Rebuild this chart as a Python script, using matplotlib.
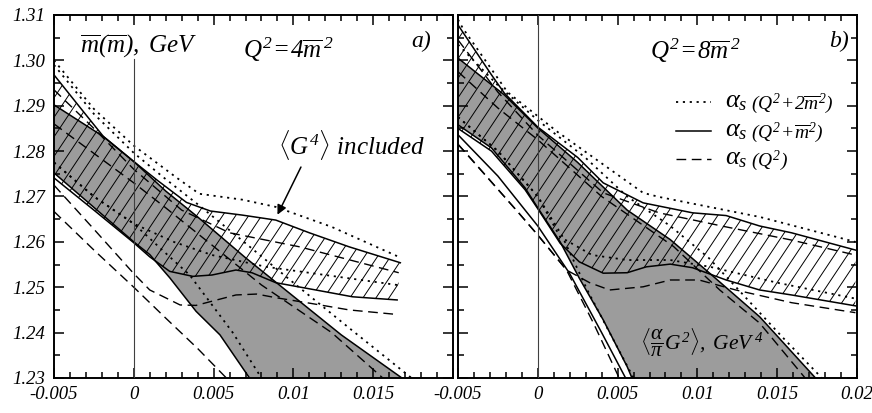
import numpy as np
import matplotlib
matplotlib.use("Agg")
import matplotlib.pyplot as plt
from matplotlib.patches import Polygon
from matplotlib.ticker import MultipleLocator

plt.rcParams['font.family'] = ['Liberation Serif', 'DejaVu Serif']
plt.rcParams['font.style'] = 'italic'
plt.rcParams['mathtext.fontset'] = 'custom'
plt.rcParams['mathtext.rm'] = 'Liberation Serif'
plt.rcParams['mathtext.it'] = 'Liberation Serif:italic'
plt.rcParams['axes.unicode_minus'] = False

# ---- axis labels
yticks = [1.23, 1.24, 1.25, 1.26, 1.27, 1.28, 1.29, 1.30, 1.31]
ylabels = ['1.23', '1.24', '1.25', '1.26', '1.27', '1.28', '1.29', '1.30', '1.31']
xticks = [-0.005, 0, 0.005, 0.01, 0.015, 0.02]
xlabels_a = ['-0.005', '0', '0.005', '0.01', '0.015', '']
xlabels_b = ['-0.005', '0', '0.005', '0.01', '0.015', '0.02']

# ---- panel a) Q^2 = 4 m^2   (gu/gl: gray band, hu/hl: <G^4> included band)
a_gu_x = [-0.005, -0.0019, 0, 0.002, 0.004, 0.007, 0.010, 0.013, 0.0168]
a_gu_y = [1.2902, 1.2832, 1.2777, 1.2712, 1.2655, 1.2565, 1.2480, 1.2395, 1.2300]
a_gl_x = [-0.005, -0.0025, 0, 0.001, 0.00225, 0.0039, 0.0054, 0.00725]
a_gl_y = [1.2752, 1.2676, 1.2600, 1.2572, 1.2521, 1.2447, 1.2395, 1.2300]
a_hu_x = [-0.005, -0.0035, -0.0019, 0, 0.0015, 0.0033, 0.0048, 0.0068, 0.0089, 0.011, 0.0135, 0.0167]
a_hu_y = [1.2968, 1.2902, 1.2832, 1.2777, 1.2735, 1.2687, 1.2668, 1.2659, 1.2648, 1.2620, 1.2589, 1.2554]
a_hl_x = [-0.005, -0.0025, 0, 0.001, 0.00225, 0.0037, 0.0049, 0.0064, 0.0074, 0.0089, 0.0114, 0.0137, 0.0165]
a_hl_y = [1.2741, 1.2670, 1.2598, 1.2567, 1.2535, 1.2524, 1.2527, 1.2538, 1.2532, 1.2510, 1.2494, 1.2479, 1.2472]

a_hu_dot_x = [-0.005, -0.0025, 0, 0.0027, 0.0041, 0.0068, 0.0089, 0.0124, 0.0166]
a_hu_dot_y = [1.3000, 1.2893, 1.2812, 1.2741, 1.2706, 1.2693, 1.2677, 1.2633, 1.2567]
a_gu_dot_x = [-0.005, -0.0025, 0, 0.0019, 0.004, 0.007, 0.010, 0.0135, 0.0174]
a_gu_dot_y = [1.2990, 1.2882, 1.2796, 1.2741, 1.2683, 1.2597, 1.2510, 1.2410, 1.2300]
a_gl_dot_x = [-0.005, -0.0025, 0, 0.002, 0.0035, 0.0062, 0.008]
a_gl_dot_y = [1.2775, 1.2700, 1.2640, 1.2575, 1.2527, 1.2400, 1.2300]
a_hl_dot_x = [-0.005, -0.0025, 0, 0.0025, 0.0049, 0.0083, 0.0124, 0.0165]
a_hl_dot_y = [1.2775, 1.2700, 1.2640, 1.2600, 1.2571, 1.2545, 1.2525, 1.2505]

a_hu_dash_x = [-0.005, -0.0025, 0, 0.003, 0.006, 0.0104, 0.0166]
a_hu_dash_y = [1.2935, 1.2850, 1.2760, 1.2670, 1.2620, 1.2589, 1.2532]
a_gu_dash_x = [-0.005, -0.0025, 0, 0.002, 0.005, 0.008, 0.0124, 0.0156]
a_gu_dash_y = [1.2860, 1.2795, 1.2730, 1.2675, 1.2590, 1.2505, 1.2400, 1.2300]
a_gl_dash_x = [-0.005, -0.0025, 0, 0.002, 0.004, 0.0058]
a_gl_dash_y = [1.2667, 1.2582, 1.2500, 1.2432, 1.2365, 1.2300]
a_hl_dash_x = [-0.005, -0.0025, 0, 0.001, 0.0029, 0.0039, 0.0052, 0.0064, 0.0077, 0.0089, 0.011, 0.0135, 0.0165]
a_hl_dash_y = [1.2725, 1.2628, 1.2530, 1.2494, 1.2461, 1.2460, 1.2472, 1.2483, 1.2485, 1.2477, 1.2465, 1.2450, 1.2440]

# ---- panel b) Q^2 = 8 m^2
b_gu_x = [-0.005, -0.0021, 0, 0.0025, 0.0056, 0.0083, 0.0108, 0.0139, 0.0174]
b_gu_y = [1.3005, 1.2924, 1.2851, 1.2775, 1.2670, 1.2605, 1.2530, 1.2435, 1.2300]
b_gl_x = [-0.005, -0.0029, -0.0008, 0, 0.0014, 0.0026, 0.0041, 0.0056, 0.0059]
b_gl_y = [1.2858, 1.2807, 1.2719, 1.2675, 1.2600, 1.2520, 1.2428, 1.2325, 1.2300]
b_hu_x = [-0.005, -0.0029, -0.0021, 0, 0.0025, 0.0041, 0.0066, 0.0097, 0.0118, 0.0139, 0.0159, 0.0199]
b_hu_y = [1.3078, 1.2968, 1.2928, 1.2853, 1.2786, 1.2730, 1.2686, 1.2664, 1.2658, 1.2635, 1.2620, 1.2582]
b_hl_x = [-0.005, -0.0029, -0.0008, 0, 0.0014, 0.0026, 0.0041, 0.0056, 0.0068, 0.0083, 0.0097, 0.0118, 0.0139, 0.0159, 0.0199]
b_hl_y = [1.2850, 1.2800, 1.2715, 1.2673, 1.2597, 1.2556, 1.2531, 1.2532, 1.2545, 1.2551, 1.2543, 1.2516, 1.2494, 1.2483, 1.2459]
b_gl2_x = [-0.005, -0.0025, 0, 0.002, 0.004, 0.0055]
b_gl2_y = [1.2836, 1.2745, 1.2635, 1.2530, 1.2400, 1.2300]

b_hu_dot_x = [-0.005, -0.0047, -0.0019, 0.00125, 0.005, 0.0066, 0.0076, 0.0139, 0.0199]
b_hu_dot_y = [1.3090, 1.3071, 1.2930, 1.2842, 1.2748, 1.2708, 1.2699, 1.2655, 1.2600]
b_gu_dot_x = [-0.005, -0.0025, 0, 0.003, 0.0056, 0.0083, 0.0107, 0.0124, 0.0153, 0.0178]
b_gu_dot_y = [1.3035, 1.2945, 1.2868, 1.2785, 1.2700, 1.2635, 1.2565, 1.2501, 1.2391, 1.2300]
b_gl_dot_x = [-0.005, -0.0025, 0, 0.0015, 0.0031, 0.0045, 0.0060]
b_gl_dot_y = [1.2875, 1.2800, 1.2700, 1.2615, 1.2494, 1.2400, 1.2300]
b_hl_dot_x = [-0.005, -0.0025, 0, 0.0014, 0.0034, 0.0056, 0.0083, 0.0108, 0.015, 0.0199]
b_hl_dot_y = [1.2875, 1.2800, 1.2700, 1.2611, 1.2571, 1.2560, 1.2560, 1.2545, 1.2510, 1.2475]

b_hu_dash_x = [-0.005, -0.0025, 0, 0.0041, 0.0076, 0.0118, 0.0159, 0.0199]
b_hu_dash_y = [1.3045, 1.2930, 1.2835, 1.2708, 1.2664, 1.2633, 1.2604, 1.2571]
b_gu_dash_x = [-0.005, -0.0025, 0, 0.004, 0.0085, 0.0114, 0.0139, 0.01675]
b_gu_dash_y = [1.2975, 1.2895, 1.2825, 1.2700, 1.2590, 1.2494, 1.2421, 1.2300]
b_gl_dash_x = [-0.005, -0.0044, -0.00125, 0, 0.0018, 0.0035, 0.0051]
b_gl_dash_y = [1.2815, 1.2792, 1.2666, 1.2615, 1.2538, 1.2420, 1.2300]
b_hl_dash_x = [-0.005, -0.00125, 0, 0.0018, 0.00325, 0.0045, 0.0066, 0.0083, 0.0101, 0.0124, 0.0159, 0.0199]
b_hl_dash_y = [1.2815, 1.2666, 1.2615, 1.2538, 1.2510, 1.2494, 1.2501, 1.2516, 1.2516, 1.2494, 1.2466, 1.2444]

DOT = (0, (1.2, 2.6))
DASH = (0, (7, 4))


def band(ax, xu, yu, xl, yl, gray):
    px = list(xu) + list(xl)[::-1]
    py = list(yu) + list(yl)[::-1]
    poly = Polygon(np.column_stack([px, py]), closed=True,
                   facecolor='#9c9c9c' if gray else 'none', edgecolor='none', zorder=1)
    ax.add_patch(poly)
    if not gray:
        # hand drawn "/" hatching clipped to the band
        for c in np.arange(-2.0, 1.0, 0.0326):
            ln, = ax.plot([c, c + 1], [0, 1.65], transform=ax.transAxes,
                          color='k', lw=0.7, zorder=2)
            ln.set_clip_path(poly)


def setup(ax, xlabels, show_y):
    ax.set_xlim(-0.005, 0.02)
    ax.set_ylim(1.23, 1.31)
    ax.set_xticks(xticks)
    ax.set_xticklabels(xlabels)
    ax.set_yticks(yticks)
    if show_y:
        ax.set_yticklabels(ylabels)
    else:
        ax.set_yticklabels([])
    ax.xaxis.set_minor_locator(MultipleLocator(0.001))
    ax.yaxis.set_minor_locator(MultipleLocator(0.005))
    ax.tick_params(which='both', direction='in', top=True, right=True, width=1.1)
    ax.tick_params(which='major', length=7, pad=6, labelsize=13.5)
    ax.tick_params(which='minor', length=4)
    for s in ax.spines.values():
        s.set_linewidth(1.4)


fig = plt.figure(figsize=(8.72, 4.13), dpi=100)
ax1 = fig.add_axes([54 / 872, 35 / 413, 399 / 872, 363 / 413])
ax2 = fig.add_axes([458 / 872, 35 / 413, 399 / 872, 363 / 413])

# panel a
band(ax1, a_gu_x, a_gu_y, a_gl_x, a_gl_y, True)
band(ax1, a_hu_x, a_hu_y, a_hl_x, a_hl_y, False)
for x, y in [(a_gu_x, a_gu_y), (a_gl_x, a_gl_y), (a_hu_x, a_hu_y), (a_hl_x, a_hl_y)]:
    ax1.plot(x, y, color='k', lw=1.1, zorder=3)
for x, y in [(a_hu_dot_x, a_hu_dot_y), (a_gu_dot_x, a_gu_dot_y),
             (a_gl_dot_x, a_gl_dot_y), (a_hl_dot_x, a_hl_dot_y)]:
    ax1.plot(x, y, color='k', lw=1.3, ls=DOT, zorder=3)
for x, y in [(a_hu_dash_x, a_hu_dash_y), (a_gu_dash_x, a_gu_dash_y),
             (a_gl_dash_x, a_gl_dash_y), (a_hl_dash_x, a_hl_dash_y)]:
    ax1.plot(x, y, color='k', lw=1.0, ls=DASH, zorder=3)
ax1.plot([0, 0], [1.23, 1.3002], color='0.25', lw=0.8, zorder=4)
setup(ax1, xlabels_a, True)

ax1.text(0.065, 0.912, r'$\overline{m}(\overline{m}),\ GeV$', transform=ax1.transAxes,
         fontsize=18, va='center', ha='left')
ax1.text(0.474, 0.905, r'$Q^2\!=\!4\overline{m}^{\,2}$', transform=ax1.transAxes,
         fontsize=18, va='center', ha='left')
ax1.text(0.945, 0.926, 'a)', transform=ax1.transAxes, fontsize=17,
         va='center', ha='right')
ax1.text(0.561, 0.642, r'$\langle G^4\rangle$ included', transform=ax1.transAxes,
         fontsize=18, va='center', ha='left')
ax1.annotate('', xy=(0.557, 0.443), xytext=(0.622, 0.588), xycoords='axes fraction',
             arrowprops=dict(arrowstyle='-|>', color='k', lw=1.1, mutation_scale=14))

# panel b
band(ax2, b_gu_x, b_gu_y, b_gl_x, b_gl_y, True)
band(ax2, b_hu_x, b_hu_y, b_hl_x, b_hl_y, False)
for x, y in [(b_gu_x, b_gu_y), (b_gl_x, b_gl_y), (b_hu_x, b_hu_y), (b_hl_x, b_hl_y),
             (b_gl2_x, b_gl2_y)]:
    ax2.plot(x, y, color='k', lw=1.1, zorder=3)
for x, y in [(b_hu_dot_x, b_hu_dot_y), (b_gu_dot_x, b_gu_dot_y),
             (b_gl_dot_x, b_gl_dot_y), (b_hl_dot_x, b_hl_dot_y)]:
    ax2.plot(x, y, color='k', lw=1.3, ls=DOT, zorder=3)
for x, y in [(b_hu_dash_x, b_hu_dash_y), (b_gu_dash_x, b_gu_dash_y),
             (b_gl_dash_x, b_gl_dash_y), (b_hl_dash_x, b_hl_dash_y)]:
    ax2.plot(x, y, color='k', lw=1.0, ls=DASH, zorder=3)
ax2.axvline(0, color='0.25', lw=0.8, zorder=4)
setup(ax2, xlabels_b, False)

ax2.text(0.48, 0.9, r'$Q^2\!=\!8\overline{m}^{\,2}$', transform=ax2.transAxes,
         fontsize=18, va='center', ha='left')
ax2.text(0.98, 0.926, 'b)', transform=ax2.transAxes, fontsize=17,
         va='center', ha='right')
ax2.text(0.455, 0.096, r'$\langle\dfrac{\alpha}{\pi}G^2\rangle,\ GeV^{\,4}$',
         transform=ax2.transAxes, fontsize=15.5, va='center', ha='left')

# legend (hand placed)
leg_rows = [(DOT, 1.3, r'$(Q^2\!+\!2\overline{m}^2)$', 0.760),
            ('-', 1.1, r'$(Q^2\!+\!\overline{m}^2)$', 0.680),
            (DASH, 1.0, r'$(Q^2)$', 0.603)]
for ls, lw, lab, fy in leg_rows:
    ax2.plot([0.5475, 0.635], [fy, fy], transform=ax2.transAxes, color='k', ls=ls, lw=lw)
    ax2.text(0.668, fy, r'$\alpha_s$', transform=ax2.transAxes, fontsize=19,
             va='center', ha='left')
    ax2.text(0.735, fy - 0.005, lab, transform=ax2.transAxes, fontsize=14,
             va='center', ha='left')

fig.savefig('out.png', dpi=100)
